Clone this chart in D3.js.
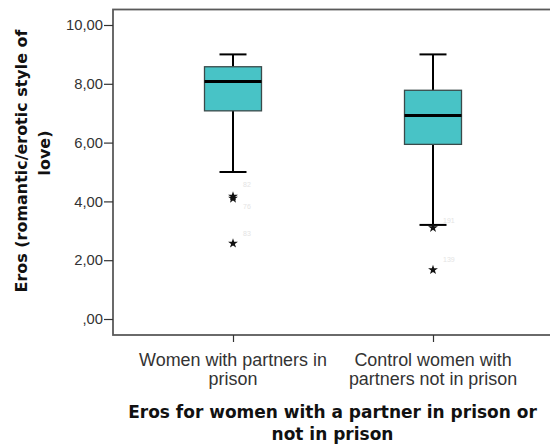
<!DOCTYPE html>
<html><head><meta charset="utf-8">
<script src="https://cdn.jsdelivr.net/npm/d3@7"></script>
<style>body{margin:0;background:#fff}svg{display:block}</style>
</head><body>
<script>
const categories = [["Women with partners in", "prison"], ["Control women with", "partners not in prison"]];
const groupIds = ["g1", "g2"];
const whiskerLow = [5.0, 3.2];
const q1 = [7.08, 5.94];
const median = [8.08, 6.92];
const q3 = [8.58, 7.78];
const whiskerHigh = [9.0, 9.0];
const outlierGroup = [0, 0, 0, 1, 1];
const outlierValue = [4.17, 4.1, 2.57, 3.1, 1.67];
const outlierLabel = ["82", "76", "83", "191", "139"];
const yTicks = [0, 2, 4, 6, 8, 10];
const yTitle = ["Eros (romantic/erotic style of", "love)"];
const xTitle = ["Eros for women with a partner in prison or", "not in prison"];

(function () {
const W = 550, H = 446;
const mLeft = 113, mTop = 9.5, mBottom = 335, mRight = 560;
const REG = "Arial, 'Liberation Sans', sans-serif";
const BOLD = "'DejaVu Sans', Verdana, sans-serif";
const svg = d3.select("body").append("svg").attr("width", W).attr("height", H);

function fitSize(family, weight, str, target) {
  const t = svg.append("text").attr("font-family", family).attr("font-weight", weight).attr("font-size", 20).text(str);
  const len = t.node().getComputedTextLength();
  t.remove();
  return 20 * target / len;
}
const tickSize = fitSize(REG, "normal", "10,00", 37);
const catSize = fitSize(REG, "normal", categories[0][0], 188);
const xtSize = fitSize(BOLD, "bold", xTitle[0], 409);
const ytSize = fitSize(BOLD, "bold", yTitle[0], 263);

const y = d3.scaleLinear().domain([0, 10]).range([319, 25]);
const x = d3.scalePoint().domain(groupIds).range([133, 533]).padding(0.5);

// frame
svg.append("rect").attr("x", mLeft).attr("y", mTop).attr("width", mRight - mLeft).attr("height", mBottom - mTop)
  .attr("fill", "#fff").attr("stroke", "#5a5a5a").attr("stroke-width", 1.8);

// y axis
const yAxis = d3.axisLeft(y).tickValues(yTicks).tickSize(9).tickPadding(1)
  .tickFormat(d => d === 0 ? ",00" : d3.format(".2f")(d).replace(".", ","));
const ya = svg.append("g").attr("transform", `translate(${mLeft},0)`).call(yAxis);
ya.select(".domain").remove();
ya.selectAll("line").attr("stroke", "#333").attr("stroke-width", 1.2);
ya.selectAll("text").attr("font-family", REG).attr("font-size", tickSize).attr("fill", "#333");

// x axis
const xAxis = d3.axisBottom(x).tickSize(7).tickFormat("");
const xa = svg.append("g").attr("transform", `translate(0,${mBottom})`).call(xAxis);
xa.select(".domain").remove();
xa.selectAll("line").attr("stroke", "#333").attr("stroke-width", 1.2);

// category labels
groupIds.forEach((id, i) => {
  const t = svg.append("text").attr("x", x(id)).attr("y", 366).attr("text-anchor", "middle")
    .attr("font-family", REG).attr("font-size", catSize).attr("fill", "#333");
  categories[i].forEach((line, k) => t.append("tspan").attr("x", x(id)).attr("dy", k === 0 ? 0 : 19).text(line));
});

// boxes
const bw = 57, cw = 27;
groupIds.forEach((id, i) => {
  const cx = x(id);
  const bg = svg.append("g");
  bg.append("line").attr("x1", cx).attr("x2", cx).attr("y1", y(whiskerHigh[i])).attr("y2", y(q3[i])).attr("stroke", "#000").attr("stroke-width", 2);
  bg.append("line").attr("x1", cx).attr("x2", cx).attr("y1", y(q1[i])).attr("y2", y(whiskerLow[i])).attr("stroke", "#000").attr("stroke-width", 2);
  bg.append("line").attr("x1", cx - cw / 2).attr("x2", cx + cw / 2).attr("y1", y(whiskerHigh[i])).attr("y2", y(whiskerHigh[i])).attr("stroke", "#000").attr("stroke-width", 2);
  bg.append("line").attr("x1", cx - cw / 2).attr("x2", cx + cw / 2).attr("y1", y(whiskerLow[i])).attr("y2", y(whiskerLow[i])).attr("stroke", "#000").attr("stroke-width", 2);
  bg.append("rect").attr("x", cx - bw / 2).attr("y", y(q3[i])).attr("width", bw).attr("height", y(q1[i]) - y(q3[i]))
    .attr("fill", "#48c3c6").attr("stroke", "#3a4a4a").attr("stroke-width", 1.3);
  bg.append("line").attr("x1", cx - bw / 2).attr("x2", cx + bw / 2).attr("y1", y(median[i])).attr("y2", y(median[i])).attr("stroke", "#000").attr("stroke-width", 3);
});

// outliers
const star = d3.symbol().type(d3.symbolStar).size(30);
outlierValue.forEach((v, i) => {
  const cx = x(groupIds[outlierGroup[i]]);
  svg.append("path").attr("d", star).attr("transform", `translate(${cx},${y(v)})`).attr("fill", "#111");
});
const labelDy = [-9, 11, -7, -5, -8];
outlierValue.forEach((v, i) => {
  const cx = x(groupIds[outlierGroup[i]]);
  svg.append("text").attr("x", cx + 10).attr("y", y(v) + labelDy[i]).attr("font-family", REG)
    .attr("font-size", 7).attr("fill", "#e4e4e4").text(outlierLabel[i]);
});

// y title
const ytCenters = [161, 153];
yTitle.forEach((line, k) => {
  svg.append("text").attr("transform", `translate(${k === 0 ? 27 : 50},${ytCenters[k]}) rotate(-90)`).attr("text-anchor", "middle")
    .attr("font-family", BOLD).attr("font-size", ytSize).attr("font-weight", "bold").attr("fill", "#111").text(line);
});

// x title
const xt = svg.append("text").attr("text-anchor", "middle")
  .attr("font-family", BOLD).attr("font-size", xtSize).attr("font-weight", "bold").attr("fill", "#111");
xTitle.forEach((line, k) => xt.append("tspan").attr("x", 332.5).attr("y", k === 0 ? 418 : 440).text(line));
})();
</script>
</body></html>
